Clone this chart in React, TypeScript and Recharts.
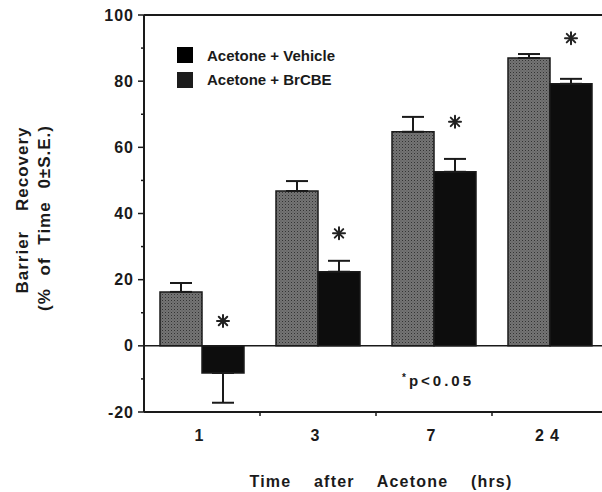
import { BarChart, Bar, XAxis, YAxis, ErrorBar, ReferenceLine, ReferenceDot, Customized } from 'recharts';

const times = ['1', '3', '7', '24'];
const vehicle = [16.3, 46.8, 64.7, 87.0];
const vehicleErr = [2.7, 3.0, 4.5, 1.2];
const brcbe = [-8.2, 22.4, 52.6, 79.2];
const brcbeErr = [9.0, 3.3, 3.9, 1.5];
const starAt = [7.5, 34, 67.7, 93];
const yTicks = [-20, -10, 0, 10, 20, 30, 40, 50, 60, 70, 80, 90, 100];
const seriesNames = ['Acetone + Vehicle', 'Acetone + BrCBE'];
const legendSwatches = ['#000000', '#1c1c1c'];

const INK = '#1a1a1a';
const FONT = '"Liberation Sans", Arial, Helvetica, sans-serif';
const BAR_SIZE = 42;

const data = times.map((t, i) => ({
  time: t,
  vehicle: vehicle[i],
  vehicleErr: [0, vehicleErr[i]],
  brcbe: brcbe[i],
  // negative bar gets its whisker pointing down
  brcbeErr: brcbe[i] < 0 ? [brcbeErr[i], 0] : [0, brcbeErr[i]],
}));

function YTick(props: any) {
  const { x, y, payload } = props;
  const major = payload.value % 20 === 0;
  return (
    <g>
      <line x1={x - (major ? 6 : 3)} x2={x} y1={y} y2={y} stroke={INK} strokeWidth={1.5} />
      {major && (
        <text
          x={x - 10}
          y={y}
          dy={5.5}
          textAnchor="end"
          fontFamily={FONT}
          fontWeight={700}
          fontSize={16}
          letterSpacing={1}
          fill={INK}
        >
          {payload.value}
        </text>
      )}
    </g>
  );
}

function XTick(props: any) {
  const { x, y, payload } = props;
  const half = payload.offset ?? 58;
  const last = payload.index === times.length - 1;
  return (
    <g>
      <text
        x={x}
        y={y + 29}
        textAnchor="middle"
        fontFamily={FONT}
        fontWeight={700}
        fontSize={16}
        letterSpacing={6}
        fill={INK}
      >
        {payload.value}
      </text>
      {!last && <line x1={x + half} x2={x + half} y1={y} y2={y + 4} stroke={INK} strokeWidth={1.5} />}
    </g>
  );
}

function YLabel(props: any) {
  const { viewBox } = props;
  const cy = viewBox.y + viewBox.height / 2;
  const common = {
    textAnchor: 'middle' as const,
    fontFamily: FONT,
    fontWeight: 700,
    fontSize: 17,
    letterSpacing: 1,
    fill: INK,
  };
  return (
    <g>
      <text x={28} y={cy - 3.5} transform={`rotate(-90, 28, ${cy - 3.5})`} wordSpacing={14} {...common}>
        Barrier Recovery
      </text>
      <text x={50} y={cy + 4.5} transform={`rotate(-90, 50, ${cy + 4.5})`} wordSpacing={7} {...common}>
        (% of Time 0±S.E.)
      </text>
    </g>
  );
}

function XLabel(props: any) {
  const { viewBox } = props;
  return (
    <text
      x={viewBox.x + viewBox.width / 2 + 5}
      y={viewBox.y + 75}
      textAnchor="middle"
      fontFamily={FONT}
      fontWeight={700}
      fontSize={16}
      letterSpacing={1.2}
      wordSpacing={17}
      fill={INK}
    >
      Time after Acetone (hrs)
    </text>
  );
}

function Star({ cx, cy }: { cx: number; cy: number }) {
  const r = 6;
  const d = r * Math.SQRT1_2;
  return (
    <g stroke="#222" strokeWidth={2} strokeLinecap="round">
      <line x1={cx} y1={cy - r} x2={cx} y2={cy + r} />
      <line x1={cx - r} y1={cy} x2={cx + r} y2={cy} />
      <line x1={cx - d} y1={cy - d} x2={cx + d} y2={cy + d} />
      <line x1={cx - d} y1={cy + d} x2={cx + d} y2={cy - d} />
    </g>
  );
}

function Extras() {
  return (
    <g>
      <defs>
        <pattern id="stipple" width="3" height="3" patternUnits="userSpaceOnUse">
          <rect width="3" height="3" fill="#747474" />
          <rect width="1" height="1" fill="#333333" />
          <rect x="1.5" y="1.5" width="1" height="1" fill="#555555" />
        </pattern>
      </defs>
      {seriesNames.map((name, i) => (
        <g key={name}>
          <rect x={177} y={47 + i * 25} width={16} height={16} fill={legendSwatches[i]} />
          <text x={207} y={60.5 + i * 24.5} fontFamily={FONT} fontWeight={700} fontSize={15} fill={INK}>
            {name}
          </text>
        </g>
      ))}
      <text x={402} y={386} fontFamily={FONT} fontWeight={700} fontSize={15} letterSpacing={3} fill={INK}>
        <tspan fontSize={10} dy={-5}>*</tspan>
        <tspan dy={5}>p&lt;0.05</tspan>
      </text>
    </g>
  );
}

export default function App() {
  return (
    <div
      style={{
        position: 'absolute',
        left: 0,
        top: 0,
        width: 602,
        height: 492,
        overflow: 'hidden',
        background: '#fff',
      }}
    >
      <BarChart
        width={616}
        height={492}
        data={data}
        margin={{ top: 15, right: 8, bottom: 0, left: 0 }}
        barGap={0}
        barSize={BAR_SIZE}
      >
        <Customized component={Extras} />
        <XAxis
          dataKey="time"
          height={80}
          tickSize={0}
          tickMargin={0}
          tickLine={false}
          interval={0}
          axisLine={{ stroke: INK, strokeWidth: 2 }}
          tick={<XTick />}
          label={<XLabel />}
        />
        <YAxis
          width={144}
          domain={[-20, 100]}
          ticks={yTicks}
          interval={0}
          tickSize={0}
          tickMargin={0}
          tickLine={false}
          axisLine={{ stroke: INK, strokeWidth: 2 }}
          tick={<YTick />}
          label={<YLabel />}
        />
        <ReferenceLine y={100} stroke={INK} strokeWidth={2} ifOverflow="visible" />
        <ReferenceLine y={0} stroke={INK} strokeWidth={1.5} />
        <Bar dataKey="vehicle" fill="url(#stipple)" stroke={INK} strokeWidth={1.5} isAnimationActive={false}>
          <ErrorBar dataKey="vehicleErr" width={11} strokeWidth={2} stroke={INK} direction="y" />
        </Bar>
        <Bar dataKey="brcbe" fill="#0d0d0d" stroke={INK} strokeWidth={1.5} isAnimationActive={false}>
          <ErrorBar dataKey="brcbeErr" width={11} strokeWidth={2} stroke={INK} direction="y" />
        </Bar>
        {times.map((t, i) => (
          <ReferenceDot
            key={t}
            x={t}
            y={starAt[i]}
            r={0}
            ifOverflow="visible"
            shape={(p: any) => <Star cx={p.cx + BAR_SIZE / 2} cy={p.cy} />}
          />
        ))}
      </BarChart>
    </div>
  );
}
